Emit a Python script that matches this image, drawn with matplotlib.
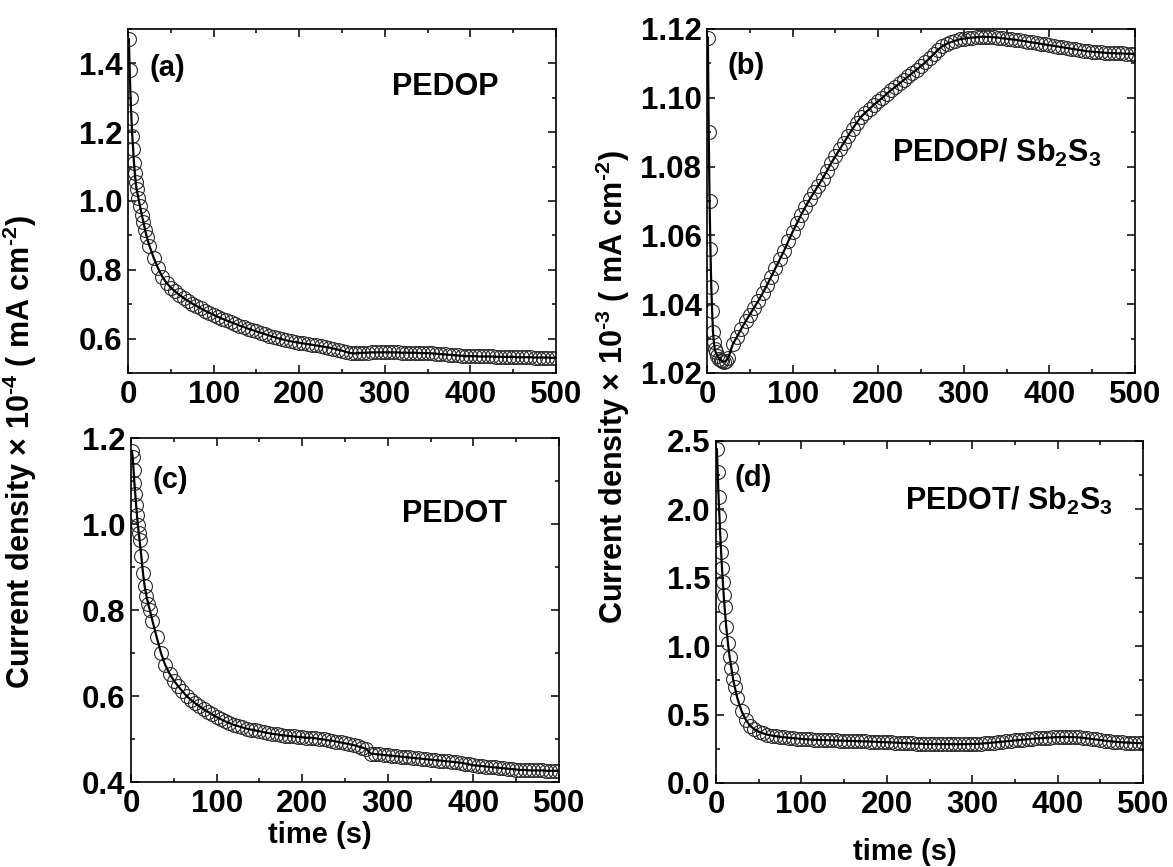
import matplotlib
matplotlib.use("Agg")
import matplotlib.pyplot as plt
from matplotlib.ticker import MultipleLocator

plt.rcParams['font.family'] = ['Liberation Sans', 'DejaVu Sans']
plt.rcParams['font.weight'] = 'bold'
plt.rcParams['mathtext.fontset'] = 'custom'
plt.rcParams['mathtext.rm'] = 'Liberation Sans:bold'
plt.rcParams['mathtext.bf'] = 'Liberation Sans:bold'
plt.rcParams['mathtext.it'] = 'Liberation Sans:bold'
plt.rcParams['mathtext.default'] = 'bf'

# ---------------- data ----------------
time_s = [1, 2, 3, 4, 5, 6, 7, 8, 9, 10, 12, 14, 16, 18, 20, 22, 25] + list(range(30, 505, 5))

pedop = [1.47, 1.38, 1.30, 1.24, 1.19, 1.15, 1.11, 1.08, 1.055, 1.035, 1.01, 0.985, 0.96, 0.94, 0.915, 0.895, 0.87,
         0.835, 0.805, 0.78, 0.762, 0.748, 0.737, 0.727, 0.718, 0.710, 0.702, 0.695, 0.688, 0.681, 0.675, 0.669,
         0.663, 0.658, 0.653, 0.648, 0.643, 0.638, 0.634, 0.629, 0.625, 0.621, 0.617, 0.613, 0.609, 0.605, 0.601, 0.598, 0.595, 0.592, 0.590, 0.588,
         0.586, 0.584, 0.582, 0.580, 0.578, 0.576, 0.574, 0.571, 0.568, 0.565, 0.561, 0.558, 0.557, 0.558, 0.559, 0.559, 0.560, 0.560, 0.560, 0.560,
         0.560, 0.560, 0.560, 0.559, 0.559, 0.559, 0.559, 0.558, 0.558, 0.558, 0.557, 0.556, 0.555, 0.554, 0.553, 0.552, 0.551, 0.550, 0.549, 0.549,
         0.549, 0.548, 0.548, 0.548, 0.548, 0.547, 0.547, 0.547, 0.547, 0.547, 0.546, 0.546, 0.546, 0.546, 0.545, 0.545, 0.545, 0.545, 0.544, 0.544]

pedop_sb2s3 = [1.1175, 1.090, 1.070, 1.056, 1.045, 1.038, 1.032, 1.029, 1.027, 1.0262, 1.0250, 1.0242, 1.0237, 1.0234, 1.0233, 1.0235, 1.0245,
               1.0283, 1.0305, 1.0328, 1.0350, 1.0370, 1.0390, 1.0410, 1.0432, 1.0455, 1.0480, 1.0505, 1.0530, 1.0555, 1.0583, 1.0610,
               1.0635, 1.0660, 1.0683, 1.0705, 1.0725, 1.0745, 1.0765, 1.0787, 1.0810, 1.0830, 1.0850, 1.0870, 1.0890, 1.0910, 1.0928, 1.0945, 1.0957, 1.0968, 1.0980, 1.0990,
               1.1000, 1.1012, 1.1022, 1.1032, 1.1042, 1.1052, 1.1062, 1.1072, 1.1082, 1.1092, 1.1103, 1.1115, 1.1127, 1.1140, 1.1150, 1.1157, 1.1162, 1.1166, 1.1170, 1.1172,
               1.1174, 1.1175, 1.1176, 1.1177, 1.1177, 1.1177, 1.1176, 1.1175, 1.1173, 1.1172, 1.1170, 1.1169, 1.1167, 1.1165, 1.1163, 1.1161, 1.1159, 1.1157, 1.1155, 1.1153,
               1.1151, 1.1149, 1.1147, 1.1145, 1.1143, 1.1141, 1.1139, 1.1137, 1.1135, 1.1134, 1.1133, 1.1132, 1.1131, 1.1130, 1.1130, 1.1129, 1.1129, 1.1128, 1.1128, 1.1127]

pedot = [1.17, 1.156, 1.125, 1.095, 1.07, 1.044, 1.02, 0.998, 0.98, 0.963, 0.926, 0.886, 0.855, 0.833, 0.815, 0.80, 0.775,
         0.737, 0.700, 0.672, 0.652, 0.636, 0.623, 0.611, 0.600, 0.591, 0.583, 0.576, 0.569, 0.563, 0.557, 0.551,
         0.546, 0.541, 0.537, 0.533, 0.530, 0.527, 0.524, 0.522, 0.520, 0.518, 0.516, 0.514, 0.512, 0.511, 0.509, 0.508, 0.507, 0.506, 0.505, 0.504,
         0.503, 0.503, 0.502, 0.500, 0.499, 0.497, 0.496, 0.494, 0.492, 0.490, 0.488, 0.486, 0.483, 0.480, 0.477, 0.466, 0.465, 0.464, 0.463, 0.462,
         0.461, 0.460, 0.459, 0.458, 0.457, 0.456, 0.455, 0.454, 0.453, 0.452, 0.451, 0.450, 0.449, 0.448, 0.447, 0.446, 0.445, 0.443, 0.441, 0.439,
         0.438, 0.437, 0.436, 0.435, 0.434, 0.433, 0.432, 0.431, 0.430, 0.429, 0.428, 0.428, 0.427, 0.427, 0.427, 0.427, 0.426, 0.426, 0.426, 0.426]

pedot_sb2s3 = [2.44, 2.27, 2.09, 1.95, 1.81, 1.69, 1.57, 1.47, 1.375, 1.29, 1.14, 1.02, 0.92, 0.84, 0.76, 0.70, 0.62,
               0.525, 0.460, 0.418, 0.392, 0.375, 0.363, 0.354, 0.347, 0.342, 0.338, 0.334, 0.331, 0.328, 0.325, 0.322,
               0.320, 0.318, 0.316, 0.315, 0.314, 0.313, 0.312, 0.311, 0.310, 0.309, 0.308, 0.307, 0.306, 0.305, 0.304, 0.303, 0.302, 0.300, 0.299, 0.298,
               0.297, 0.295, 0.294, 0.292, 0.291, 0.290, 0.288, 0.287, 0.286, 0.285, 0.285, 0.285, 0.284, 0.284, 0.284, 0.284, 0.284, 0.284, 0.285, 0.285,
               0.286, 0.288, 0.290, 0.293, 0.296, 0.299, 0.302, 0.305, 0.308, 0.311, 0.314, 0.317, 0.320, 0.323, 0.326, 0.328, 0.330, 0.332, 0.334, 0.335,
               0.336, 0.336, 0.336, 0.335, 0.333, 0.330, 0.326, 0.322, 0.318, 0.314, 0.310, 0.306, 0.303, 0.300, 0.298, 0.296, 0.294, 0.293, 0.292, 0.291]

panel_tags = ['(a)', '(b)', '(c)', '(d)']
sample_names = ['PEDOP', 'PEDOP/ Sb$_2$S$_3$', 'PEDOT', 'PEDOT/ Sb$_2$S$_3$']
ylims = [(0.5, 1.5), (1.02, 1.12), (0.4, 1.2), (0.0, 2.5)]
ymajor = [0.2, 0.02, 0.2, 0.5]
yminor = [0.1, 0.01, 0.1, 0.25]
yfmt = ['%.1f', '%.2f', '%.1f', '%.1f']
series = [pedop, pedop_sb2s3, pedot, pedot_sb2s3]

# ---------------- layout ----------------
W, H = 1173, 867
fig = plt.figure(figsize=(W / 100, H / 100), dpi=100)

def px_axes(l, t, r, b):
    return fig.add_axes([l / W, 1 - b / H, (r - l) / W, (b - t) / H])

axes = [px_axes(128, 29, 556, 373), px_axes(707, 29, 1135, 373),
        px_axes(131, 438, 559, 782), px_axes(716, 441, 1143, 783)]

tag_pos = [(0.051, 0.887), (0.047, 0.892), (0.051, 0.878), (0.044, 0.892)]
name_pos = [(0.617, 0.808), (0.432, 0.613), (0.633, 0.756), (0.443, 0.798)]

for i, ax in enumerate(axes):
    ax.plot(time_s, series[i], linestyle='none', marker='o', markersize=10,
            markerfacecolor='none', markeredgecolor='#2a2a2a', markeredgewidth=0.8, zorder=2)
    ax.plot(time_s, series[i], color='black', linewidth=1.6, zorder=3)
    ax.set_xlim(0, 500)
    ax.set_ylim(*ylims[i])
    ax.xaxis.set_major_locator(MultipleLocator(100))
    ax.xaxis.set_minor_locator(MultipleLocator(50))
    ax.yaxis.set_major_locator(MultipleLocator(ymajor[i]))
    ax.yaxis.set_minor_locator(MultipleLocator(yminor[i]))
    ax.yaxis.set_major_formatter(plt.FormatStrFormatter(yfmt[i]))
    ax.tick_params(which='both', direction='in', top=True, right=True, width=1.1)
    ax.tick_params(which='major', length=5.5, labelsize=22.5, pad=4)
    ax.tick_params(axis='x', which='major', pad=5)
    ax.tick_params(which='minor', length=3)
    for lab in ax.get_xticklabels() + ax.get_yticklabels():
        lab.set_fontweight('bold')
    for sp in ax.spines.values():
        sp.set_linewidth(1.2)
    ax.text(tag_pos[i][0], tag_pos[i][1], panel_tags[i], transform=ax.transAxes,
            fontsize=21, fontweight='bold', ha='left', va='center')
    ax.text(name_pos[i][0], name_pos[i][1], sample_names[i], transform=ax.transAxes,
            fontsize=22, fontweight='bold', ha='left', va='baseline')

fig.text(20 / W, 1 - 452 / H, 'Current density \u00d7 10$^{\\text{-4}}$ ( mA cm$^{\\text{-2}}$)',
         rotation=90, ha='center', va='center', fontsize=22, fontweight='bold')
fig.text(613 / W, 1 - 387 / H, 'Current density \u00d7 10$^{\\text{-3}}$ ( mA cm$^{\\text{-2}}$)',
         rotation=90, ha='center', va='center', fontsize=22, fontweight='bold')
fig.text(320 / W, 1 - 835 / H, 'time (s)', ha='center', va='center', fontsize=21, fontweight='bold')
fig.text(905 / W, 1 - 852 / H, 'time (s)', ha='center', va='center', fontsize=21, fontweight='bold')

fig.savefig('out.png', dpi=100)
